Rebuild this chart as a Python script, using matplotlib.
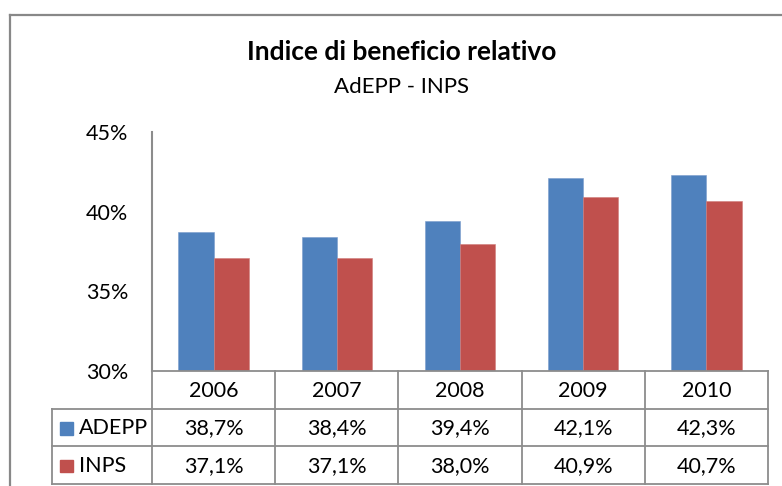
import matplotlib.pyplot as plt
import numpy as np

plt.rcParams['font.family'] = ['Lato', 'DejaVu Sans']

years = ['2006', '2007', '2008', '2009', '2010']
series = ['ADEPP', 'INPS']
adepp = [38.7, 38.4, 39.4, 42.1, 42.3]
inps = [37.1, 37.1, 38.0, 40.9, 40.7]
colors = ['#4F81BD', '#C0504D']
yticks = [30, 35, 40, 45]

W, H = 782, 486
grid = '#8c8c8c'
fs = 15.5


def box(l, t, r, b):
    # pixel box -> figure fraction rect
    return [l / W, 1 - b / H, (r - l) / W, (b - t) / H]


fig = plt.figure(figsize=(W / 100, H / 100), dpi=100)

# chart border (only left and top visible in the crop)
fig.add_artist(plt.Line2D([10 / W, 10 / W], [0, 1 - 15 / H], color='#888888', lw=1.6))
fig.add_artist(plt.Line2D([10 / W, 1], [1 - 15 / H, 1 - 15 / H], color='#888888', lw=1.6))

fig.text(402 / W, 1 - 52 / H, 'Indice di beneficio relativo', ha='center', va='center',
         fontsize=19, fontweight='bold')
fig.text(402 / W, 1 - 87 / H, 'AdEPP - INPS', ha='center', va='center', fontsize=16)

# bars
ax = fig.add_axes(box(152, 132, 768, 371))
x = np.arange(len(years))
bw = 0.285
ax.bar(x - bw / 2, adepp, bw, color=colors[0], edgecolor='#7a9ccc', lw=0.4)
ax.bar(x + bw / 2, inps, bw, color=colors[1], edgecolor='#d07c7a', lw=0.4)
ax.set_xlim(-0.5, 4.5)
ax.set_ylim(30, 45)
ax.set_yticks(yticks)
ax.set_yticklabels([f'{t}%' for t in yticks], fontsize=fs)
ax.tick_params(axis='y', length=0, pad=17)
ax.set_xticks([])
for s in ['top', 'right', 'bottom']:
    ax.spines[s].set_visible(False)
ax.spines['left'].set_color(grid)
ax.spines['left'].set_linewidth(1.5)

# data table
colw = 616 / 5
tab = fig.add_axes(box(52, 371, 768, 484))
tab.set_xlim(-0.5 - 100 / colw, 4.5)
tab.set_ylim(3, 0)
tab.axis('off')
lk = dict(color=grid, lw=1.3, clip_on=False)
tab.plot([-0.5, 4.5], [0, 0], **lk)
for r in [1, 2, 3]:
    tab.plot([-0.5 - 100 / colw, 4.5], [r, r], **lk)
for c in np.arange(-0.5, 5, 1):
    tab.plot([c, c], [0, 3], **lk)
tab.plot([-0.5 - 100 / colw] * 2, [1, 3], **lk)

for i, yr in enumerate(years):
    tab.text(i, 0.52, yr, ha='center', va='center', fontsize=fs)
for r, (name, vals, col) in enumerate(zip(series, [adepp, inps], colors)):
    row = r + 1.52
    for i, v in enumerate(vals):
        tab.text(i, row, f'{v:.1f}%'.replace('.', ','), ha='center', va='center', fontsize=fs)
    tab.add_patch(plt.Rectangle((-0.5 - 92 / colw, row - 0.17), 13 / colw, 0.34,
                                color=col, clip_on=False))
    tab.text(-0.5 - 73 / colw, row, name, ha='left', va='center', fontsize=fs)

fig.savefig('out.png', dpi=100)
